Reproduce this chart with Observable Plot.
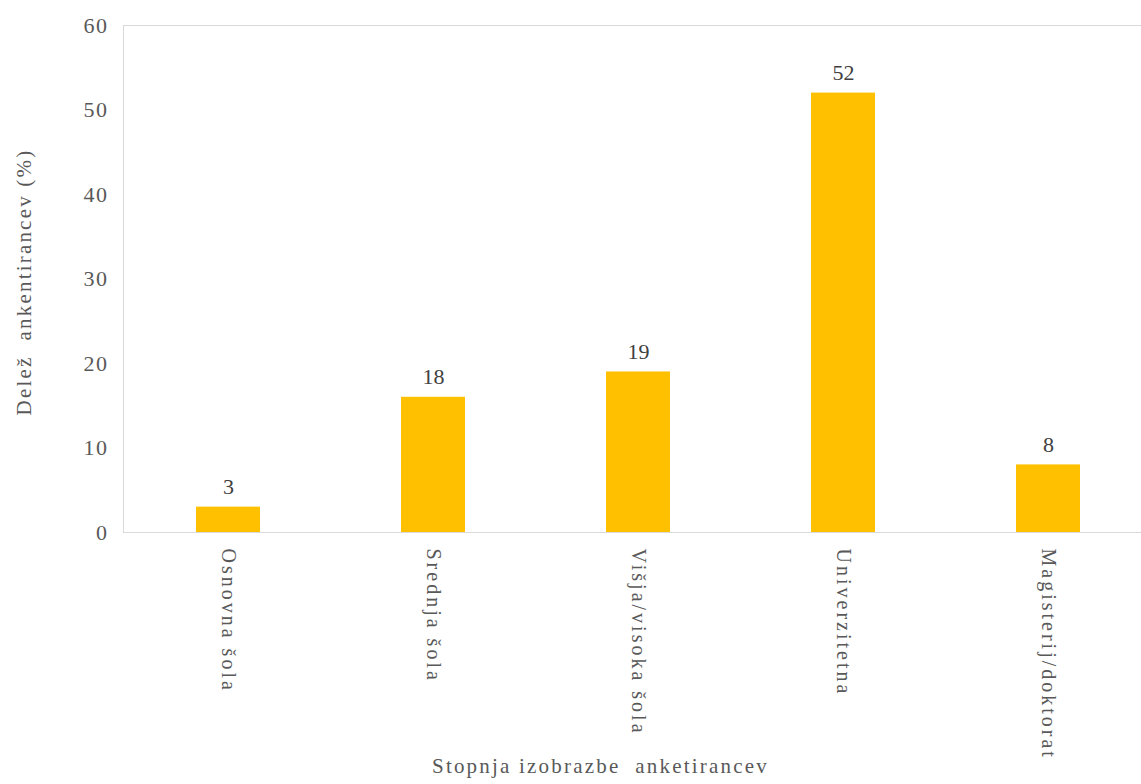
<!DOCTYPE html>
<html>
<head>
<meta charset="utf-8">
<script src="https://cdn.jsdelivr.net/npm/d3@7"></script>
<script src="https://cdn.jsdelivr.net/npm/@observablehq/plot@0.6"></script>
<style>
  html, body { margin: 0; padding: 0; background: #fff; }
  svg, svg text { font-family: "Liberation Serif", "DejaVu Serif", serif !important; white-space: pre; }
</style>
</head>
<body>
<div id="chart"></div>
<script>
const categories = ["Osnovna šola", "Srednja šola", "Višja/visoka šola", "Univerzitetna", "Magisterij/doktorat"];
const values = [3, 16, 19, 52, 8];
const valueLabels = ["3", "18", "19", "52", "8"];
const yTicks = [0, 10, 20, 30, 40, 50, 60];
const xTitle = "Stopnja izobrazbe  anketirancev";
const yTitle = "Delež  ankentirancev (%)";

const data = categories.map((c, i) => ({category: c, value: values[i], label: valueLabels[i]}));

const gray = "#595959";
const lineGray = "#d9d9d9";

const chart = Plot.plot({
  width: 1141,
  height: 784,
  marginLeft: 123,
  marginRight: 0,
  marginTop: 25,
  marginBottom: 252,
  style: {fontSize: "21px", color: gray, background: "#fff"},
  x: {domain: categories, range: [123, 1152], paddingInner: 0.69, paddingOuter: 0.345, align: 0.5, label: null, tickSize: 0, tickRotate: 90, tickPadding: 16},
  y: {domain: [0, 60], ticks: yTicks, label: null, tickSize: 0, tickPadding: 15, tickFormat: d => String(d)},
  marks: [
    Plot.frame({stroke: lineGray}),
    Plot.barY(data, {x: "category", y: "value", fill: "#FFC000"}),
    Plot.ruleY([0], {stroke: lineGray}),
    Plot.text(data, {x: "category", y: "value", text: "label", dy: -13, lineAnchor: "bottom", fill: "#404040", fontSize: 22}),
    Plot.text([xTitle], {frameAnchor: "bottom", dy: 240, dx: -32, fill: gray, fontSize: 21, className: "axis-title"}),
    Plot.text([yTitle], {frameAnchor: "left", textAnchor: "middle", dx: -99, dy: 3, rotate: -90, fill: gray, fontSize: 21, className: "axis-title"})
  ]
});

const svg = d3.select(chart);
svg.selectAll("g[aria-label='x-axis tick label'] text").style("letter-spacing", "3px").style("font-size", "20px");
svg.selectAll("g[aria-label='y-axis tick label'] text").style("font-size", "22px").style("letter-spacing", "1.5px");
svg.selectAll(".axis-title text").style("letter-spacing", "2.2px");
document.getElementById("chart").appendChild(chart);
</script>
</body>
</html>
